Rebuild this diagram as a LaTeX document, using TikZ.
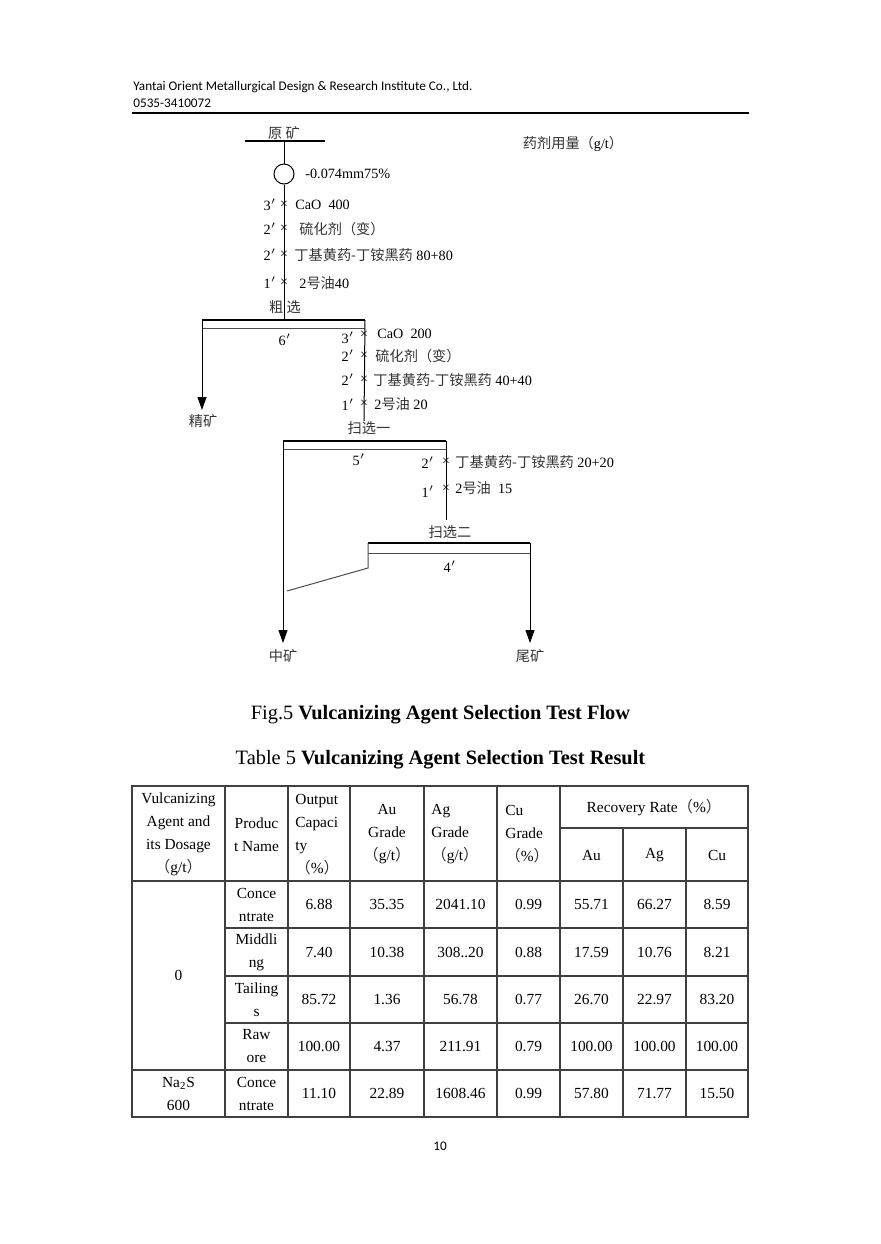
\documentclass[tikz,border=0pt]{standalone}
\usepackage{fontspec}
\setmainfont{Liberation Serif}
\newfontfamily\cjk[Color=333333]{Noto Sans CJK SC}
\newfontfamily\kopffont{Carlito}
\usetikzlibrary{arrows.meta}
\newcommand\flussgr{\fontsize{7.1}{8.5}\selectfont}
\newcommand\tabgr{\fontsize{7.7}{11.5}\selectfont}
\newcommand\capgr{\fontsize{10.2}{12}\selectfont}
\newcommand\kopfgr{\kopffont\fontsize{6.6}{8}\selectfont}
\newcommand\kl[1]{{\cjk （}#1{\cjk ）}}

\tikzset{
	txt/.style={inner sep=0pt, font=\flussgr},
	zusatz/.style={inner sep=0pt, font=\flussgr, anchor=west},
	kreuz/.style={inner sep=0pt, font=\fontsize{7}{7}\selectfont},
	balken/.style={line width=1pt},
	unterbalken/.style={line width=0.45pt, black!70},
	strom/.style={line width=0.5pt},
	produkt/.style={strom, -{Triangle[length=6.5pt,width=4.5pt]}},
	zelle/.style={inner sep=0pt, font=\tabgr, align=center},
	gitter/.style={line width=0.6pt, black!75},
}

\begin{document}
\begin{tikzpicture}[x=0.5pt, y=-0.5pt]

	\useasboundingbox[fill=white] (0,0) rectangle (880,1244);

	% Kopfzeile
	\node[anchor=west, inner sep=0pt, font=\kopfgr] (firma) at (133,87) {Yantai Orient Metallurgical Design \& Research Institute Co., Ltd.};
	\node[anchor=west, inner sep=0pt, font=\kopfgr] (tel) at (133,103) {0535-3410072};
	\draw[line width=0.6pt] (132,113) -- (749,113);

	% Rohmaterial und Mahlung
	\coordinate (Y1) at (245,141);
	\coordinate (Y2) at (325,141);
	\coordinate (Yf) at (284,141);
	\node[txt] (yuan) at (284,133) {\cjk 原 矿};
	\node[txt] (dosis) at (573,144) {{\cjk 药剂用量（}g/t{\cjk ）}};
	\draw[balken] (Y1) -- (Y2);
	\node[circle, draw, strom, minimum size=10pt, inner sep=0pt] (mo) at (284,174) {};
	\node[zusatz] (fein) at (305,174) {-0.074mm75\%};
	\draw[strom] (Yf) -- (mo);

	% Stufe 1: Grobflotation
	\coordinate (C1) at (202,320);
	\coordinate (C2) at (365,320);
	\coordinate (C1u) at (202,328);
	\coordinate (C2u) at (365,328);
	\coordinate (Cf) at (284,320);
	\draw[strom] (mo) -- (Cf);
	\draw[balken] (C1) -- (C2);
	\draw[unterbalken] (C1u) -- (C2u);

	\node[txt] (a1z) at (270,205) {3$'$};
	\node[kreuz] (a1x) at (284,205) {×};
	\node[zusatz] (a1t) at (295,205) {CaO\ \ 400};
	\node[txt] (a2z) at (270,229) {2$'$};
	\node[kreuz] (a2x) at (284,229) {×};
	\node[zusatz] (a2t) at (299,229) {\cjk 硫化剂（变）};
	\node[txt] (a3z) at (270,255) {2$'$};
	\node[kreuz] (a3x) at (284,255) {×};
	\node[zusatz] (a3t) at (294,255) {{\cjk 丁基黄药-丁铵黑药} 80+80};
	\node[txt] (a4z) at (270,283) {1$'$};
	\node[kreuz] (a4x) at (284,283) {×};
	\node[zusatz] (a4t) at (299,283) {2{\cjk 号油}40};
	\node[txt] (cu) at (285,307) {\cjk 粗 选};
	\node[txt] (k6) at (285,340) {6$'$};

	\coordinate (Jk) at (202,410);
	\draw[produkt] (C1) -- (Jk);
	\node[txt] (jing) at (203,421) {\cjk 精矿};

	% Stufe 2: Nachflotation 1
	\coordinate (S1f) at (364,421);
	\draw[strom] (C2) -- (S1f);
	\node[txt] (b1z) at (348,338) {3$'$};
	\node[kreuz] (b1x) at (364,335) {×};
	\node[zusatz] (b1t) at (377,334) {CaO\ \ 200};
	\node[txt] (b2z) at (348,356) {2$'$};
	\node[kreuz] (b2x) at (364,356) {×};
	\node[zusatz] (b2t) at (375,356) {\cjk 硫化剂（变）};
	\node[txt] (b3z) at (348,380) {2$'$};
	\node[kreuz] (b3x) at (364,380) {×};
	\node[zusatz] (b3t) at (373,380) {{\cjk 丁基黄药-丁铵黑药} 40+40};
	\node[txt] (b4z) at (348,405) {1$'$};
	\node[kreuz] (b4x) at (364,404) {×};
	\node[zusatz] (b4t) at (374,404) {2{\cjk 号油} 20};
	\node[txt] (sao1) at (369,428) {\cjk 扫选一};

	\coordinate (S1a) at (283,441);
	\coordinate (S1b) at (446,441);
	\coordinate (S1au) at (283,449);
	\coordinate (S1bu) at (446,449);
	\draw[balken] (S1a) -- (S1b);
	\draw[unterbalken] (S1au) -- (S1bu);
	\node[txt] (k5) at (359,460) {5$'$};

	% Stufe 3: Nachflotation 2
	\coordinate (S2f) at (446,520);
	\draw[strom] (S1b) -- (S2f);
	\node[txt] (c1z) at (428,463) {2$'$};
	\node[kreuz] (c1x) at (446,462) {×};
	\node[zusatz] (c1t) at (455,462) {{\cjk 丁基黄药-丁铵黑药} 20+20};
	\node[txt] (c2z) at (428,492) {1$'$};
	\node[kreuz] (c2x) at (446,489) {×};
	\node[zusatz] (c2t) at (455,488) {2{\cjk 号油}\ \ 15};
	\node[txt] (sao2) at (450,532) {\cjk 扫选二};

	\coordinate (S2a) at (368,543);
	\coordinate (S2b) at (530,543);
	\coordinate (S2au) at (368,553);
	\coordinate (S2bu) at (530,553);
	\draw[balken] (S2a) -- (S2b);
	\draw[unterbalken] (S2au) -- (S2bu);
	\node[txt] (k4) at (450,567) {4$'$};

	\coordinate (Rk) at (368,568);
	\coordinate (Rz) at (287,591);
	\draw[strom, black!70] (S2a) -- (Rk) -- (Rz);

	\coordinate (Zk) at (283,643);
	\coordinate (Wk) at (530,643);
	\draw[produkt] (S1a) -- (Zk);
	\draw[produkt] (S2b) -- (Wk);
	\node[txt] (zhong) at (283,656) {\cjk 中矿};
	\node[txt] (wei) at (530,656) {\cjk 尾矿};

	% Beschriftungen
	\node[inner sep=0pt, font=\capgr] (fig) at (440.5,715) {Fig.5 \textbf{Vulcanizing Agent Selection Test Flow}};
	\node[inner sep=0pt, font=\capgr] (tab) at (440.5,760) {Table 5 \textbf{Vulcanizing Agent Selection Test Result}};

	% Tabelle
	\draw[gitter] (132,786) rectangle (748,1117);
	\draw[gitter] (132,881) -- (748,881);
	\draw[gitter] (132,1070) -- (748,1070);
	\draw[gitter] (560,828) -- (748,828);
	\foreach \y in {928,976,1023}
		\draw[gitter] (225,\y) -- (748,\y);
	\foreach \x in {225,288,350,424,497,560}
		\draw[gitter] (\x,786) -- (\x,1117);
	\foreach \x in {623,686}
		\draw[gitter] (\x,828) -- (\x,1117);

	\node[zelle] (hv) at (178.5,834.5) {Vulcanizing\\Agent and\\its Dosage\\\kl{g/t}};
	\node[zelle] (hp) at (256.5,834.5) {Produc\\t Name};
	\node[zelle, align=left, anchor=west] (ho) at (295,834.5) {Output\\Capaci\\ty\\\kl{\%}};
	\node[zelle] (hau) at (387,834) {Au\\Grade\\\kl{g/t}};
	\node[zelle, align=left, anchor=west] (hag) at (431,834) {Ag\\Grade\\\kl{g/t}};
	\node[zelle, align=left, anchor=west] (hcu) at (505,834) {Cu\\Grade\\\kl{\%}};
	\node[zelle] (hrr) at (654,808) {Recovery Rate\kl{\%}};
	\node[zelle] (rau) at (591.5,855) {Au};
	\node[zelle] (rag) at (654.5,855) {Ag};
	\node[zelle] (rcu) at (717,855) {Cu};

	\node[zelle] (d0) at (178.5,975.5) {0};
	\node[zelle] (dna) at (178.5,1093.5) {Na\textsubscript{2}S\\600};

	\foreach \y/\p/\a/\b/\c/\d/\e/\f/\g [count=\r] in {
		904.5/{Conce\\ntrate}/6.88/35.35/2041.10/0.99/55.71/66.27/8.59,
		952/{Middli\\ng}/7.40/10.38/308..20/0.88/17.59/10.76/8.21,
		999.5/{Tailing\\s}/85.72/1.36/56.78/0.77/26.70/22.97/83.20,
		1046.5/{Raw\\ore}/100.00/4.37/211.91/0.79/100.00/100.00/100.00,
		1093.5/{Conce\\ntrate}/11.10/22.89/1608.46/0.99/57.80/71.77/15.50}{
		\node[zelle] (p\r) at (256.5,\y) {\p};
		\node[zelle] (o\r) at (319,\y) {\a};
		\node[zelle] (au\r) at (387,\y) {\b};
		\node[zelle] (ag\r) at (460.5,\y) {\c};
		\node[zelle] (cu\r) at (528.5,\y) {\d};
		\node[zelle] (rau\r) at (591.5,\y) {\e};
		\node[zelle] (rag\r) at (654.5,\y) {\f};
		\node[zelle] (rcu\r) at (717,\y) {\g};
	}

	% Seitenzahl
	\node[inner sep=0pt, font=\kopfgr] (seite) at (440,1146) {10};

\end{tikzpicture}
\end{document}
